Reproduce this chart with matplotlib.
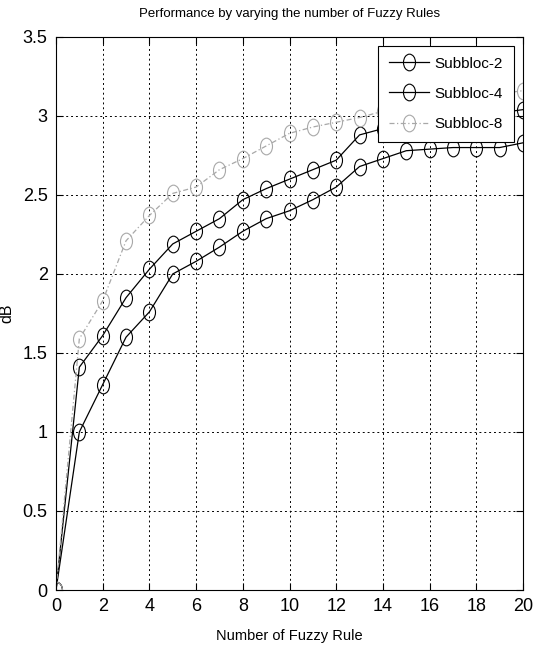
import matplotlib
matplotlib.use("Agg")
import matplotlib.pyplot as plt
from matplotlib.path import Path
from matplotlib.transforms import Affine2D

rules = list(range(0, 21))
subblock_2 = [0.0, 1.00, 1.30, 1.60, 1.76, 2.00, 2.08, 2.17, 2.27, 2.35, 2.40,
              2.47, 2.55, 2.68, 2.73, 2.78, 2.79, 2.80, 2.80, 2.80, 2.83]
subblock_4 = [0.0, 1.41, 1.61, 1.85, 2.03, 2.19, 2.27, 2.35, 2.47, 2.54, 2.60,
              2.66, 2.72, 2.88, 2.92, 2.95, 2.97, 2.99, 3.01, 3.02, 3.04]
subblock_8 = [0.0, 1.59, 1.83, 2.21, 2.37, 2.51, 2.55, 2.66, 2.73, 2.81, 2.89,
              2.93, 2.96, 2.99, 3.03, 3.06, 3.08, 3.10, 3.12, 3.14, 3.16]
series_names = ["Subbloc-2", "Subbloc-4", "Subbloc-8"]
x_ticks = list(range(0, 21, 2))
y_ticks = [0, 0.5, 1, 1.5, 2, 2.5, 3, 3.5]
y_tick_labels = ["0", "0.5", "1", "1.5", "2", "2.5", "3", "3.5"]

plt.rcParams["font.family"] = ["Liberation Sans", "DejaVu Sans"]

# narrow open ellipse used as the point marker
circle = Path.unit_circle()
ellipse = Path(Affine2D().scale(0.72, 1.0).transform(circle.vertices), circle.codes)

fig = plt.figure(figsize=(5.42, 6.48), dpi=100)
ax = fig.add_axes([0.1033, 0.0895, 0.8617, 0.8535])

ax.plot(rules, subblock_2, color="black", lw=0.9, marker=ellipse, ms=12,
        mfc="none", mec="black", mew=0.8, label=series_names[0])
ax.plot(rules, subblock_4, color="black", lw=0.9, marker=ellipse, ms=12,
        mfc="none", mec="black", mew=0.8, label=series_names[1])
ax.plot(rules, subblock_8, color="#a8a8a8", lw=0.9, ls=(0, (4, 2, 1, 2)),
        marker=ellipse, ms=12, mfc="none", mec="#a8a8a8", mew=0.8,
        label=series_names[2])

ax.set_xlim(0, 20)
ax.set_ylim(0, 3.5)
ax.set_xticks(x_ticks)
ax.set_yticks(y_ticks)
ax.set_xticklabels([str(t) for t in x_ticks])
ax.set_yticklabels(y_tick_labels)
ax.tick_params(direction="in", top=True, right=True, length=5, width=0.8,
               labelsize=13, pad=6, colors="black")
ax.grid(True, color="black", ls=(0, (2, 3)), lw=0.7)
for sp in ax.spines.values():
    sp.set_color("black")
    sp.set_linewidth(0.8)

ax.set_title("Performance by varying the number of Fuzzy Rules", fontsize=9.5, pad=14)
ax.set_xlabel("Number of Fuzzy Rule", fontsize=10.5, labelpad=10)
ax.set_ylabel("dB", fontsize=11.5, labelpad=6)

leg = ax.legend(loc="upper right", fontsize=11, frameon=True, fancybox=False,
                edgecolor="black", framealpha=1.0, handlelength=2.6,
                borderpad=0.7, labelspacing=1.05, handletextpad=0.4,
                borderaxespad=0.6)
leg.get_frame().set_linewidth(0.8)

fig.savefig("out.png", dpi=100, facecolor="white")
